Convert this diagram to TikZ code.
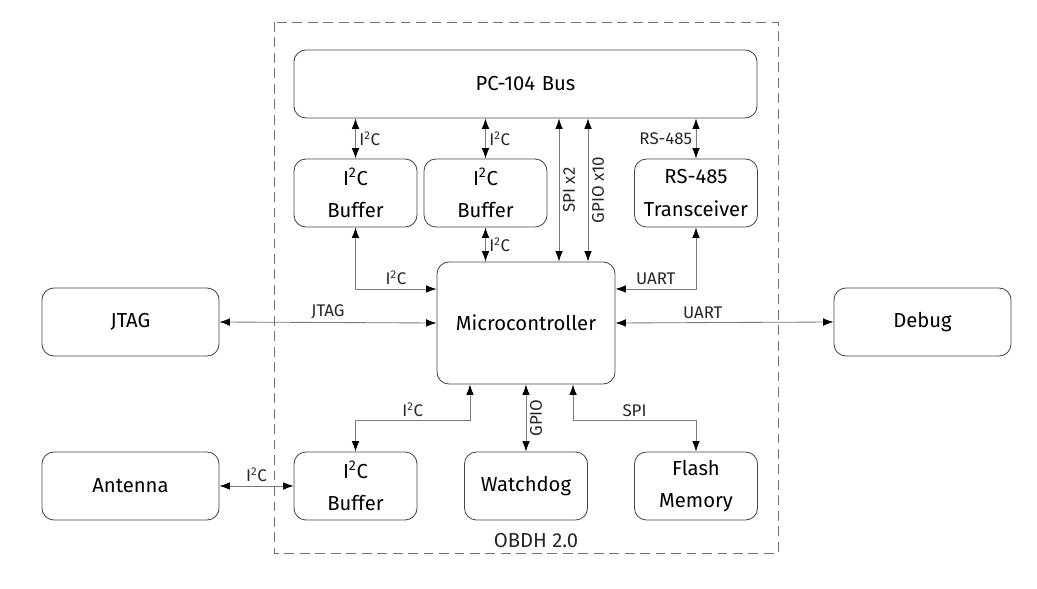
\documentclass[tikz,border=0pt]{standalone}
\usepackage{fontspec}
\setmainfont{Fira Sans}
\usepackage{tikz}
\usetikzlibrary{arrows.meta, positioning, calc}

\colorlet{boxline}{black!72}
\colorlet{busline}{black!52}

\begin{document}
\begin{tikzpicture}[x=0.025cm, y=-0.025cm,
                block/.style={draw=boxline, line width=0.6pt, text width=3.075cm, minimum height=1.7cm,
                              align=center, font=\fontsize{14.4}{23}\selectfont, rounded corners=8.5pt, inner sep=0pt},
                link/.style={{Latex[length=2.6mm,width=1.9mm,color=black]}-{Latex[length=2.6mm,width=1.9mm,color=black]},
                             busline, line width=0.6pt},
                lbl/.style={font=\large, text=black!85, inner sep=2.5pt}]

                \useasboundingbox (0,0) rectangle (1037,589);

                % OBDH board
                \draw[black!55, line width=0.6pt, dash pattern=on 7pt off 4pt] (274,22) rectangle (778,553);
                \node[font=\Large, text=black!85] (obdh) at (536,541) {OBDH 2.0};

                % Blocks
                \node[block, text width=11.575cm] (bus) at (525.5,84) {PC-104 Bus};
                \node[block] (buf1) at (355.5,193) {I\textsuperscript{2}C\\Buffer};
                \node[block] (buf2) at (485.5,193) {I\textsuperscript{2}C\\Buffer};
                \node[block] (rs) at (696,193) {RS-485\\Transceiver};
                \node[block, text width=4.45cm, minimum height=3.05cm] (mcu) at (526,323) {Microcontroller};
                \node[block, text width=4.425cm] (jtag) at (130.5,322) {JTAG};
                \node[block, text width=4.425cm] (debug) at (922.5,322) {Debug};
                \node[block, text width=4.425cm] (ant) at (130.5,486) {Antenna};
                \node[block] (buf3) at (355.5,486) {I\textsuperscript{2}C\\Buffer};
                \node[block] (wdog) at (526,486) {Watchdog};
                \node[block] (flash) at (696,486) {Flash\\Memory};

                % Bus side
                \draw[link] (bus.south -| buf1.north) -- (buf1.north)
                    node[lbl, midway, right] {I\textsuperscript{2}C};
                \draw[link] (bus.south -| buf2.north) -- (buf2.north)
                    node[lbl, midway, right] {I\textsuperscript{2}C};
                \draw[link] (bus.south -| rs.north) -- (rs.north)
                    node[lbl, midway, left] {RS-485};
                \draw[link] (bus.south -| 559,0) -- (mcu.north -| 559,0)
                    node[lbl, midway, rotate=90, anchor=north] {SPI x2};
                \draw[link] (bus.south -| 588,0) -- (mcu.north -| 588,0)
                    node[lbl, midway, rotate=90, anchor=north] {GPIO x10};

                % Buffers and transceiver to microcontroller
                \draw[link] (buf1.south) |- ([yshift=0.85cm]mcu.west)
                    node[lbl, pos=0.75, above] {I\textsuperscript{2}C};
                \draw[link] (buf2.south) -- (buf2.south |- mcu.north)
                    node[lbl, midway, right] {I\textsuperscript{2}C};
                \draw[link] (rs.south) |- ([yshift=0.85cm]mcu.east)
                    node[lbl, pos=0.75, above] {UART};

                % Debug ports
                \draw[link] (jtag.east) -- (mcu.west)
                    node[lbl, midway, above] {JTAG};
                \draw[link] (mcu.east) -- (debug.west)
                    node[lbl, pos=0.4, above] {UART};

                % Lower peripherals
                \draw[link] ([xshift=-1.4cm]mcu.south) -- ++(0,36)
                    -| node[lbl, pos=0.25, above] {I\textsuperscript{2}C} (buf3.north);
                \draw[link] (mcu.south) -- (wdog.north)
                    node[lbl, midway, rotate=90, anchor=north] {GPIO};
                \draw[link] ([xshift=1.175cm]mcu.south) -- ++(0,36)
                    -| node[lbl, pos=0.25, above] {SPI} (flash.north);
                \draw[link] (ant.east) -- (buf3.west)
                    node[lbl, midway, above] {I\textsuperscript{2}C};
            \end{tikzpicture}
\end{document}
